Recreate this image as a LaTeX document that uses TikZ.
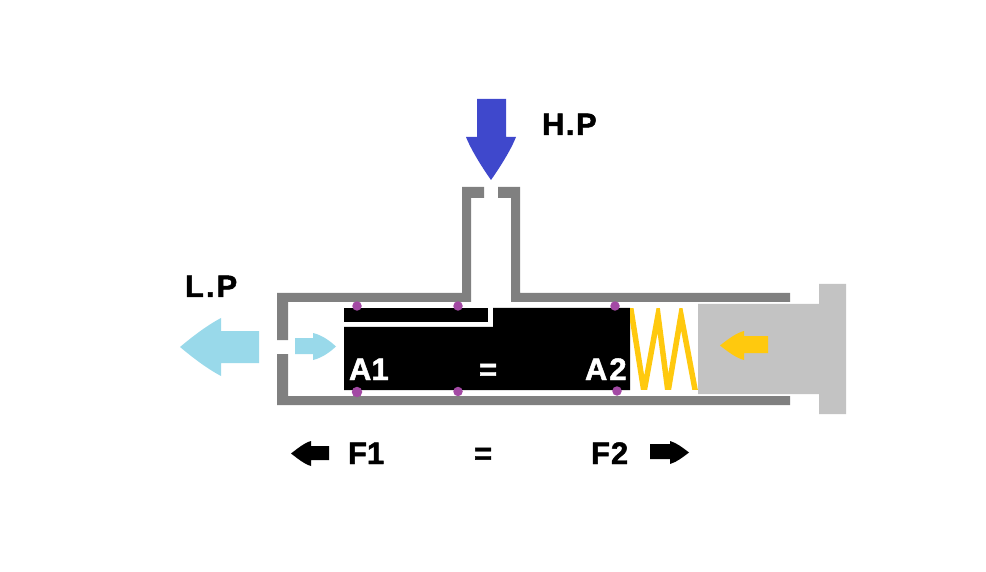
\documentclass[tikz,border=0pt]{standalone}
\usepackage{fontspec}
\setmainfont[BoldFeatures={FakeBold=1.6}]{Liberation Sans}
\definecolor{wall}{HTML}{808080}
\definecolor{rod}{HTML}{C3C3C3}
\definecolor{hp}{HTML}{3F48CC}
\definecolor{lp}{HTML}{99D9EA}
\definecolor{amber}{HTML}{FFC90E}
\definecolor{dot}{HTML}{A349A4}
\tikzset{
  wallpart/.style={fill=wall,draw=none},
  rodpart/.style={fill=rod,draw=none},
  label/.style={inner sep=0pt,outer sep=0pt,anchor=base west,font=\fontsize{31}{36}\selectfont\bfseries,text=black},
  whitelabel/.style={label,text=white},
  pin/.style={circle,fill=dot,draw=none,minimum size=9.5pt,inner sep=0pt}
}
\begin{document}
\begin{tikzpicture}[x=1pt,y=-1pt]
\useasboundingbox (0,0) rectangle (986,572);
% housing
\fill[wallpart] (277,293) -- (462,293) -- (462,187) -- (484,187) -- (484,198) -- (471,198) -- (471,302) -- (288,302) -- (288,340) -- (277,340) -- cycle;
\fill[wallpart] (520,187) -- (498,187) -- (498,198) -- (511,198) -- (511,302) -- (790,302) -- (790,293) -- (520,293) -- cycle;
\fill[wallpart] (277,354) -- (288,354) -- (288,396) -- (790,396) -- (790,405) -- (277,405) -- cycle;
% piston
\fill[black] (344,308) -- (488,308) -- (488,322) -- (344,322) -- cycle;
\fill[black] (493,308) -- (630,308) -- (630,390) -- (344,390) -- (344,327) -- (493,327) -- cycle;
% spring
\begin{scope}
\clip (630,309) rectangle (698,389);
\draw[amber,line width=5.5pt,line join=miter,miter limit=10] (629,297) -- (644,392) -- (658,315) -- (668,392) -- (681,315) -- (697,400);
\end{scope}
% rod
\fill[rodpart] (698,304) -- (819,304) -- (819,284) -- (846,284) -- (846,414) -- (819,414) -- (819,394) -- (698,394) -- cycle;
% pins
\node[pin] (p1) at (357,306) {};
\node[pin] (p2) at (458,306) {};
\node[pin] (p3) at (615,306) {};
\node[pin,minimum size=10.5pt] (p4) at (357,392) {};
\node[pin] (p5) at (458,391.5) {};
\node[pin] (p6) at (617,391) {};
% arrows
\fill[hp] (477,99) -- (506,99) -- (506,137) -- (516,137) .. controls (510,152) and (498,170) .. (491,180) .. controls (484,170) and (472,152) .. (466,137) -- (477,137) -- cycle;
\fill[lp] (259,331) -- (221,331) -- (221,318) .. controls (206,326) and (192,337) .. (180,347) .. controls (192,357) and (206,368) .. (221,376) -- (221,363) -- (259,363) -- cycle;
\fill[lp] (295,338) -- (313,338) -- (313,333) .. controls (322,335) and (330,341) .. (336,346.5) .. controls (330,352) and (322,358) .. (313,360) -- (313,354) -- (295,354) -- cycle;
\fill[amber] (768,336) -- (744,336) -- (744,331) .. controls (736,333) and (727,340) .. (720,345.5) .. controls (727,351) and (736,358) .. (744,360) -- (744,353) -- (768,353) -- cycle;
\fill[black] (329,446) -- (311,446) -- (311,441) .. controls (304,443) and (297,449) .. (291,453.5) .. controls (297,458) and (304,464) .. (311,466) -- (311,460) -- (329,460) -- cycle;
\fill[black] (650,444) -- (670,444) -- (670,441) .. controls (677,443) and (683,448) .. (689,452.5) .. controls (683,457) and (677,462) .. (670,464) -- (670,459) -- (650,459) -- cycle;
% labels
\node[label] (hplabel) at (542,135) {H\kern1.5pt.\kern1.5pt P};
\node[label] (lplabel) at (185,297) {L\kern2pt.\kern2pt P};
\node[whitelabel] (aone) at (349,380) {A1};
\node[whitelabel] (atwo) at (585,380) {A\kern2pt 2};
\node[whitelabel] (eqa) at (479,380) {=};
\node[label] (fone) at (348,464) {F1};
\node[label] (ftwo) at (591,464) {F\kern1pt 2};
\node[label] (eqb) at (474,464) {=};
\end{tikzpicture}
\end{document}
